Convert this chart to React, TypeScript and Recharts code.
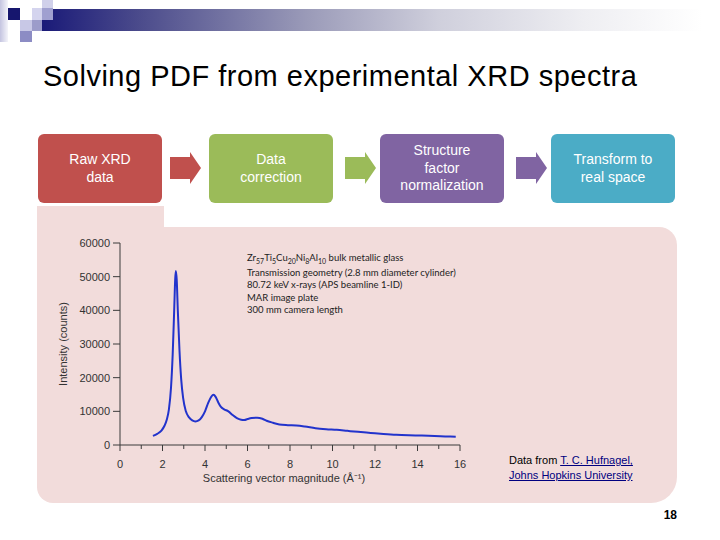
import React from "react";
import { LineChart, Line, XAxis, YAxis } from "recharts";

// scattering vector magnitude (1/Å) and measured intensity (counts)
const qValues = [
  1.55, 1.75, 1.95, 2.1, 2.2, 2.3, 2.4, 2.48, 2.55, 2.6, 2.63, 2.67, 2.72, 2.8,
  2.88, 2.97, 3.1, 3.25, 3.4, 3.55, 3.7, 3.85, 4.0, 4.15, 4.3, 4.4, 4.5, 4.62,
  4.75, 4.9, 5.1, 5.3, 5.5, 5.7, 5.85, 6.0, 6.2, 6.45, 6.7, 6.9, 7.2, 7.5, 7.9,
  8.3, 8.7, 9.2, 9.7, 10.2, 10.7, 11.2, 11.8, 12.4, 13.0, 13.6, 14.2, 14.8,
  15.3, 15.8,
];
const intensity = [
  2700, 3300, 4300, 5800, 7500, 10500, 17000, 27000, 40000, 49500, 51700, 49000,
  40000, 28000, 19500, 14000, 10000, 8200, 7300, 7000, 7300, 8300, 10000, 12500,
  14400, 14900, 14300, 12700, 11300, 10600, 10000, 8900, 8000, 7500, 7400, 7700,
  8000, 8100, 7800, 7200, 6600, 6100, 5900, 5800, 5500, 5000, 4700, 4500, 4200,
  3900, 3600, 3300, 3050, 2900, 2800, 2650, 2550, 2450,
];

const xTicks = [0, 1, 2, 3, 4, 5, 6, 7, 8, 9, 10, 11, 12, 13, 14, 15, 16];
const yTicks = [0, 10000, 20000, 30000, 40000, 50000, 60000];

const steps = [
  { lines: ["Raw XRD", "data"], color: "#c0504d" },
  { lines: ["Data", "correction"], color: "#9bbb59" },
  { lines: ["Structure", "factor", "normalization"], color: "#8064a2" },
  { lines: ["Transform to", "real space"], color: "#4bacc6" },
];
const boxLefts = [38, 209, 380, 551];
const arrowLefts = [170, 345, 516];

const notes = [
  "bulk metallic glass",
  "Transmission geometry (2.8 mm diameter cylinder)",
  "80.72 keV x-rays (APS beamline 1-ID)",
  "MAR image plate",
  "300 mm camera length",
];

const data = qValues.map((q, i) => ({ q, counts: intensity[i] }));

const axisColor = "#3a3a3a";

function XTick(props: any) {
  const { x, y, payload } = props;
  const major = payload.value % 2 === 0;
  return (
    <g>
      <line x1={x} x2={x} y1={y} y2={y + (major ? 6 : 4)} stroke={axisColor} />
      {major && (
        <text x={x} y={y + 23} textAnchor="middle" fontSize={11} fill="#333"
          fontFamily="Liberation Sans, Arial, sans-serif">
          {payload.value}
        </text>
      )}
    </g>
  );
}

const sq = (left: number, top: number, w: number, h: number, bg: string) => (
  <div style={{ position: "absolute", left, top, width: w, height: h, background: bg }} />
);

export default function App() {
  return (
    <div
      style={{
        position: "absolute",
        left: 0,
        top: 0,
        width: 720,
        height: 540,
        background: "#fff",
        overflow: "hidden",
        fontFamily: "Liberation Sans, Arial, sans-serif",
      }}
    >
      {/* header decoration */}
      <div style={{ position: "absolute", left: 0, top: 0, width: 8, height: 42,
        background: "linear-gradient(90deg, #c4c4e0, #f4f4fa)" }} />
      <div style={{ position: "absolute", left: 42, top: 9, width: 660, height: 22,
        background: "linear-gradient(90deg, #1a1a78 0%, #4c4c8c 15%, #9a9ab8 40%, #cfcfdc 60%, #eeeef2 82%, #ffffff 100%)" }} />
      {sq(8, 8, 12, 12, "#16166e")}
      {sq(42, 0, 11, 8, "#d0d0ea")}
      {sq(32, 8, 10, 12, "#d4d4ee")}
      {sq(42, 8, 11, 12, "#a0a0d0")}
      {sq(20, 20, 12, 11, "#c8c8e6")}
      {sq(32, 20, 10, 11, "#9c9cca")}
      {sq(20, 31, 12, 11, "#8c8cc4")}

      <div style={{ position: "absolute", left: 43, top: 62, fontSize: 29, letterSpacing: 0.5, lineHeight: "29px", color: "#000", whiteSpace: "nowrap" }}>
        Solving PDF from experimental XRD spectra
      </div>

      {/* process steps */}
      {steps.map((s, i) => (
        <div
          key={i}
          style={{
            position: "absolute",
            left: boxLefts[i],
            top: 134,
            width: 124,
            height: 69,
            borderRadius: 6,
            background: s.color,
            color: "#fff",
            display: "flex",
            flexDirection: "column",
            justifyContent: "center",
            alignItems: "center",
            fontSize: 14,
            lineHeight: "17.5px",
            textAlign: "center",
          }}
        >
          {s.lines.map((l) => (
            <div key={l}>{l}</div>
          ))}
        </div>
      ))}
      {arrowLefts.map((ax, i) => (
        <svg key={i} style={{ position: "absolute", left: ax, top: 150 }} width={34} height={36}>
          <polygon points="0,7 20,7 20,2 31,18 20,34 20,29 0,29" fill={steps[i].color} />
        </svg>
      ))}

      {/* pink panel */}
      <div style={{ position: "absolute", left: 37, top: 206, width: 127, height: 30, background: "#f2dcdb" }} />
      <div style={{ position: "absolute", left: 37, top: 227, width: 640, height: 276, background: "#f2dcdb",
        borderRadius: "0 18px 26px 16px" }} />

      <div style={{ position: "absolute", left: 40, top: 228 }}>
        <LineChart width={440} height={270} data={data} margin={{ top: 15, right: 20, bottom: 0, left: 0 }}>
          <XAxis
            dataKey="q"
            type="number"
            domain={[0, 16]}
            ticks={xTicks}
            interval={0}
            tickSize={0}
            tickMargin={0}
            tickLine={false}
            tick={<XTick />}
            height={53}
            stroke={axisColor}
            label={{
              value: "Scattering vector magnitude (Å⁻¹)",
              position: "insideBottom",
              offset: 16,
              dx: -6,
              fontSize: 11,
              fill: "#333",
            }}
          />
          <YAxis
            type="number"
            domain={[0, 60000]}
            ticks={yTicks}
            interval={0}
            width={80}
            tickSize={7}
            tickMargin={3}
            stroke={axisColor}
            tick={{ fontSize: 11, fill: "#333", fontFamily: "Liberation Sans, Arial, sans-serif" }}
            label={{
              value: "Intensity (counts)",
              angle: -90,
              position: "insideLeft",
              offset: 23,
              fontSize: 11,
              fill: "#333",
              style: { textAnchor: "middle" },
            }}
          />
          <Line
            type="monotone"
            dataKey="counts"
            stroke="#2233cc"
            strokeWidth={2}
            dot={false}
            isAnimationActive={false}
          />
        </LineChart>
      </div>

      {/* sample annotation */}
      <div style={{ position: "absolute", left: 247, top: 252, fontFamily: "Lato, sans-serif", fontSize: 9.5,
        lineHeight: "12.2px", color: "#222", whiteSpace: "nowrap" }}>
        <div>
          Zr<sub style={{ fontSize: 7 }}>57</sub>Ti<sub style={{ fontSize: 7 }}>5</sub>Cu<sub style={{ fontSize: 7 }}>20</sub>
          Ni<sub style={{ fontSize: 7 }}>8</sub>Al<sub style={{ fontSize: 7 }}>10</sub> {notes[0]}
        </div>
        {notes.slice(1).map((n) => (
          <div key={n}>{n}</div>
        ))}
      </div>

      <div style={{ position: "absolute", left: 509, top: 453, fontSize: 11, lineHeight: "15px", color: "#000", whiteSpace: "nowrap" }}>
        <div>
          Data from <span style={{ color: "#000080", textDecoration: "underline" }}>T. C. Hufnagel,</span>
        </div>
        <div style={{ color: "#000080", textDecoration: "underline" }}>Johns Hopkins University</div>
      </div>

      <div style={{ position: "absolute", right: 43, top: 508, fontSize: 12, fontWeight: "bold", color: "#000" }}>18</div>
    </div>
  );
}
